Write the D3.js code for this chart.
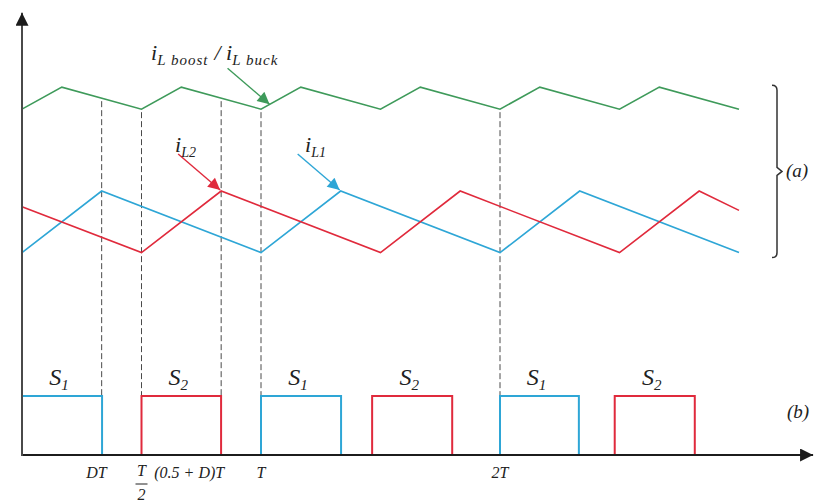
<!DOCTYPE html>
<html>
<head>
<meta charset="utf-8">
<script src="https://cdn.jsdelivr.net/npm/d3@7"></script>
<style>
  html, body { margin: 0; padding: 0; background: #fff; }
  svg { display: block; }
  text { font-family: "Liberation Serif", "DejaVu Serif", serif; font-style: italic; fill: #222; }
</style>
</head>
<body>
<svg id="chart" width="829" height="504"></svg>
<script>
// Duty ratio and time span, in units of the switching period T
const D = 1 / 3;
const tEnd = 3;

// Summed inductor current (ripple at twice the switching frequency)
const sumTimes  = [0, 1/6, 1/2, 2/3, 1, 7/6, 3/2, 5/3, 2, 13/6, 5/2, 8/3, 3];
const sumValues = [78.6, 83.6, 78.6, 83.6, 78.6, 83.6, 78.6, 83.6, 78.6, 83.6, 78.6, 83.6, 78.6];

// Phase 1 inductor current
const iL1Times  = [0, D, 1, 1 + D, 2, 2 + D, 3];
const iL1Values = [46, 60, 46, 60, 46, 60, 46];

// Phase 2 inductor current (shifted by T/2)
const iL2Times  = [0, 0.5, 0.5 + D, 1.5, 1.5 + D, 2.5, 2.5 + D, 3];
const iL2Values = [56.4, 46, 60, 46, 60, 46, 60, 55.6];

// Gate pulses [on, off] for switches S1 and S2
const s1Pulses = [[0, 0.335], [1, 1.335], [2, 2.33]];
const s2Pulses = [[0.5, 0.833], [1.465, 1.8], [2.48, 2.815]];

// Guide lines and axis labels
const guideTimes = [D, 0.5, 0.5 + D, 1, 2];

const colors = { sum: "#3e9a5a", l1: "#2ea6d6", l2: "#e02a3c", axis: "#1c1c1c", guide: "#4a4a4a" };

const svg = d3.select("#chart");

const x = d3.scaleLinear().domain([0, tEnd]).range([22, 739]);
const y = d3.scaleLinear().domain([0, 100]).range([455, 15]);
const gate = d3.scaleLinear().domain([0, 1]).range([455, 396]);

const line = d3.line().x(d => x(d[0])).y(d => y(d[1]));
const zip = (ts, vs) => ts.map((t, i) => [t, vs[i]]);

// Arrowhead markers
const defs = svg.append("defs");
function marker(id, color, w, h) {
  defs.append("marker")
    .attr("id", id).attr("viewBox", "0 0 10 10")
    .attr("refX", 10).attr("refY", 5)
    .attr("markerUnits", "userSpaceOnUse")
    .attr("markerWidth", w).attr("markerHeight", h)
    .attr("orient", "auto")
    .append("path").attr("d", "M0,0 L10,5 L0,10 Z").attr("fill", color);
}
marker("ah-sum", colors.sum, 15, 12);
marker("ah-l1", colors.l1, 15, 12);
marker("ah-l2", colors.l2, 15, 12);
marker("ah-axis", colors.axis, 16, 13);

// Vertical guide lines from the summed current down to the gate pulses
const sumAt = d3.scaleLinear().domain(sumTimes).range(sumValues);
svg.append("g").selectAll("line").data(guideTimes).join("line")
  .attr("x1", d => x(d)).attr("x2", d => x(d))
  .attr("y1", d => y(sumAt(d)) + 3)
  .attr("y2", gate(1))
  .attr("stroke", colors.guide).attr("stroke-width", 1)
  .attr("stroke-dasharray", "6,3");

// Current waveforms
const waves = [
  { pts: zip(sumTimes, sumValues), color: colors.sum },
  { pts: zip(iL1Times, iL1Values), color: colors.l1 },
  { pts: zip(iL2Times, iL2Values), color: colors.l2 }
];
svg.append("g").selectAll("path").data(waves).join("path")
  .attr("d", d => line(d.pts))
  .attr("fill", "none").attr("stroke", d => d.color)
  .attr("stroke-width", 1.6).attr("stroke-linejoin", "miter");

// Gate pulses
function pulsePath(p) {
  return `M${x(p[0])},${gate(0)} L${x(p[0])},${gate(1)} L${x(p[1])},${gate(1)} L${x(p[1])},${gate(0)}`;
}
const pulses = s1Pulses.map(p => ({ p, color: colors.l1, name: "1" }))
  .concat(s2Pulses.map(p => ({ p, color: colors.l2, name: "2" })));
svg.append("g").selectAll("path").data(pulses).join("path")
  .attr("d", d => pulsePath(d.p))
  .attr("fill", "none").attr("stroke", d => d.color).attr("stroke-width", 2);

// Switch labels above each pulse
const sLabels = svg.append("g").selectAll("text").data(pulses).join("text")
  .attr("x", d => x((d.p[0] + d.p[1]) / 2) - 3)
  .attr("y", gate(1) - 11)
  .attr("text-anchor", "middle")
  .attr("font-size", 24);
sLabels.append("tspan").text("S");
sLabels.append("tspan").attr("font-size", 15).attr("dy", 5).text(d => d.name);

// Axes
const xAxisEnd = x(3.31);
svg.append("line")
  .attr("x1", x(0)).attr("x2", xAxisEnd)
  .attr("y1", y(0)).attr("y2", y(0))
  .attr("stroke", colors.axis).attr("stroke-width", 2.2)
  .attr("marker-end", "url(#ah-axis)");
svg.append("line")
  .attr("x1", x(0)).attr("x2", x(0))
  .attr("y1", y(0) + 1).attr("y2", y(100.5))
  .attr("stroke", "#4a4a4a").attr("stroke-width", 2)
  .attr("marker-end", "url(#ah-axis)");

// Time-axis labels
const lblY = 478;
const tl = svg.append("g").attr("font-size", 16);
tl.append("text").attr("x", x(D) + 5).attr("y", lblY).attr("text-anchor", "end").text("DT");
tl.append("text").attr("x", x(0.5)).attr("y", lblY - 2).attr("text-anchor", "middle").text("T");
tl.append("line")
  .attr("x1", x(0.5) - 6).attr("x2", x(0.5) + 6)
  .attr("y1", lblY + 6).attr("y2", lblY + 6)
  .attr("stroke", "#222").attr("stroke-width", 1);
tl.append("text").attr("x", x(0.5)).attr("y", lblY + 22).attr("text-anchor", "middle").text("2");
tl.append("text").attr("x", x(0.5 + D) + 3).attr("y", lblY).attr("text-anchor", "end")
  .attr("xml:space", "preserve").text("(0.5 + D)T");
tl.append("text").attr("x", x(1)).attr("y", lblY).attr("text-anchor", "middle").text("T");
tl.append("text").attr("x", x(2)).attr("y", lblY).attr("text-anchor", "middle").text("2T");

// Annotation arrows pointing at the waveforms
function annotArrow(t, v, color, id) {
  const tx = x(t), ty = y(v);
  svg.append("line")
    .attr("x1", tx - 43).attr("y1", ty - 37)
    .attr("x2", tx - 1).attr("y2", ty - 1)
    .attr("stroke", color).attr("stroke-width", 1.4)
    .attr("marker-end", `url(#${id})`);
}
annotArrow(1.04, 79.5, colors.sum, "ah-sum");
annotArrow(0.5 + D, 60, colors.l2, "ah-l2");
annotArrow(1 + D, 60, colors.l1, "ah-l1");

// Waveform names
function currentLabel(xPos, yPos, sub) {
  const t = svg.append("text").attr("x", xPos).attr("y", yPos).attr("font-size", 22);
  t.append("tspan").text("i");
  t.append("tspan").attr("font-size", 14).attr("dy", 5).text(sub);
  return t;
}
const sumLbl = svg.append("text").attr("x", 151).attr("y", 60).attr("font-size", 22);
sumLbl.append("tspan").text("i");
sumLbl.append("tspan").attr("font-size", 15).attr("dy", 5).attr("letter-spacing", 1).text("L boost");
sumLbl.append("tspan").attr("dy", -5).attr("dx", 6).text("/ i");
sumLbl.append("tspan").attr("font-size", 15).attr("dy", 5).attr("letter-spacing", 1).text("L buck");

currentLabel(175, 152, "L2");
currentLabel(305, 152, "L1");

// Brace grouping the current waveforms
const bx = 777;
const bTop = y(d3.max(sumValues)) - 2;
const bBot = y(d3.min(iL1Values)) + 5;
const bMid = (bTop + bBot) / 2;
svg.append("path")
  .attr("d", `M${bx - 5},${bTop} Q${bx},${bTop} ${bx},${bTop + 5} L${bx},${bMid - 4} L${bx + 5},${bMid} L${bx},${bMid + 4} L${bx},${bBot - 5} Q${bx},${bBot} ${bx - 5},${bBot}`)
  .attr("fill", "none").attr("stroke", "#333").attr("stroke-width", 1.5);

svg.append("text").attr("x", 786).attr("y", bMid + 6).attr("font-size", 19).text("(a)");
svg.append("text").attr("x", 787).attr("y", 418).attr("font-size", 19).text("(b)");
</script>
</body>
</html>
